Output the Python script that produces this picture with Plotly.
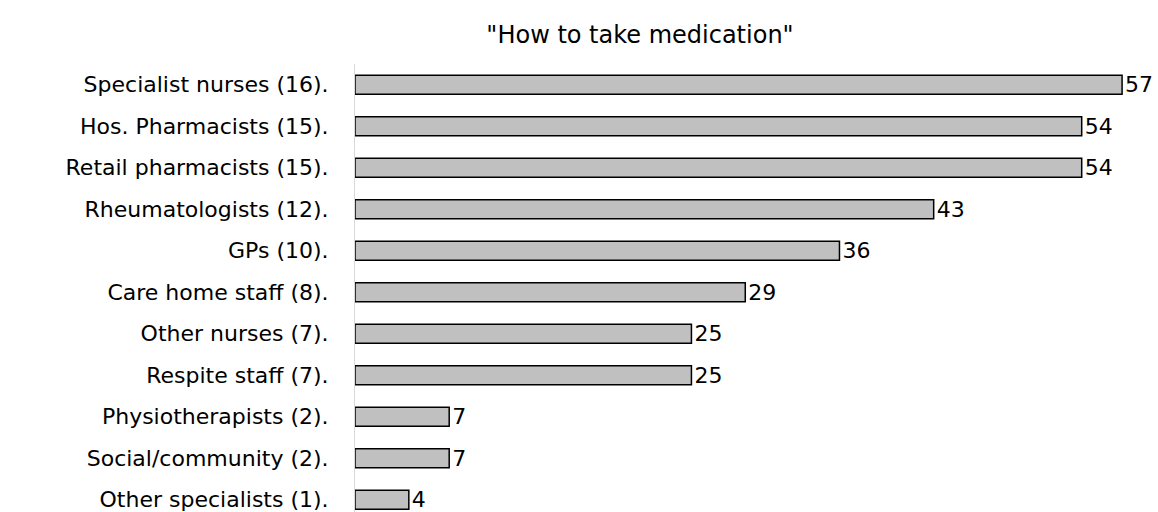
import plotly.graph_objects as go

categories = ["Specialist nurses (16).", "Hos. Pharmacists (15).", "Retail pharmacists (15).",
              "Rheumatologists (12).", "GPs (10).", "Care home staff (8).", "Other nurses (7).",
              "Respite staff (7).", "Physiotherapists (2).", "Social/community (2).",
              "Other specialists (1)."]
values = [57, 54, 54, 43, 36, 29, 25, 25, 7, 7, 4]
title_text = '"How to take medication"'

FONT = "DejaVu Sans"

fig = go.Figure(go.Bar(
    y=categories, x=values, orientation="h",
    marker=dict(color="#c0c0c0", line=dict(color="black", width=1.5)),
    text=[str(v) for v in values], textposition="outside",
    textfont=dict(family=FONT, size=22, color="black"),
    constraintext="none",
    cliponaxis=False, width=0.46,
))

fig.update_layout(
    width=1158, height=512,
    margin=dict(l=355, r=9, t=64, b=0),
    paper_bgcolor="white", plot_bgcolor="white",
    showlegend=False,
    title=dict(text=title_text, x=640/1158, xref="container", xanchor="center",
               y=1 - 35/512, yref="container", yanchor="middle",
               font=dict(family=FONT, size=24, color="black")),
    xaxis=dict(range=[0, 59], showgrid=False, zeroline=False, showticklabels=False,
               ticks="", showline=False),
    yaxis=dict(categoryorder="array", categoryarray=categories,
               range=[10.295, -0.5], showgrid=False, zeroline=False, ticks="",
               showline=True, linecolor="#d9d9d9", linewidth=1,
               ticklabelstandoff=21,
               tickfont=dict(family=FONT, size=22, color="black")),
)

fig.write_html("out.html")
